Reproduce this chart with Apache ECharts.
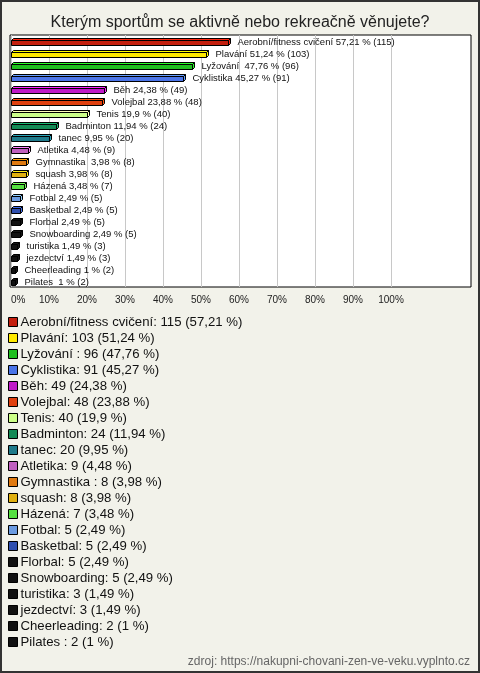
<!DOCTYPE html>
<html>
<head>
<meta charset="utf-8">
<script src="https://cdn.jsdelivr.net/npm/echarts@6/dist/echarts.min.js"></script>
<style>
html,body{margin:0;padding:0;background:#f2f2ea;}
#chart{width:480px;height:673px;}
</style>
</head>
<body>
<div id="chart"></div>
<script>
var categories = ['Aerobní/fitness cvičení', 'Plavání', 'Lyžování ', 'Cyklistika', 'Běh', 'Volejbal', 'Tenis', 'Badminton', 'tanec', 'Atletika', 'Gymnastika ', 'squash', 'Házená', 'Fotbal', 'Basketbal', 'Florbal', 'Snowboarding', 'turistika', 'jezdectví', 'Cheerleading', 'Pilates '];
var counts = [115, 103, 96, 91, 49, 48, 40, 24, 20, 9, 8, 8, 7, 5, 5, 5, 5, 3, 3, 2, 2];
var percents = [57.21, 51.24, 47.76, 45.27, 24.38, 23.88, 19.9, 11.94, 9.95, 4.48, 3.98, 3.98, 3.48, 2.49, 2.49, 2.49, 2.49, 1.49, 1.49, 1, 1];
var tickValues = [0, 10, 20, 30, 40, 50, 60, 70, 80, 90, 100];
var palette = ['#c41f0e', '#ffea00', '#1fbf1f', '#4a74e8', '#c01ac8', '#e0400f', '#ccff88', '#138a55', '#1f7a8a', '#c060c0', '#e07a10', '#e0b010', '#55e040', '#6a9ae0', '#3050b0', '#111111', '#111111', '#111111', '#111111', '#111111', '#111111'];

var FONT = 'Liberation Sans, Arial, sans-serif';
function fmt(v){ return String(v).replace('.', ','); }

var chart = echarts.init(document.getElementById('chart'), null, {renderer: 'canvas'});

var series = categories.map(function(name, i){
  return {
    type: 'custom',
    name: name,
    xAxisIndex: 1,
    yAxisIndex: 1,
    clip: false,
    itemStyle: {color: palette[i]},
    encode: {x: 0, y: 1},
    data: [[percents[i], i]],
    renderItem: function(params, api){
      var val = api.value(0), idx = api.value(1);
      var p0 = api.coord([0, idx]);
      var p1 = api.coord([val, idx]);
      var x0 = Math.round(p0[0]) + 0.5;
      var x1 = Math.round(p1[0]) + 0.5;
      var c = Math.round(p1[1]) + 0.5;
      var d = 2;
      var col = palette[i];
      var dark = echarts.color.lift(col, -0.35);
      var yt = c - 1, yb = c + 4;
      return {
        type: 'group',
        children: [
          {type: 'polygon', shape: {points: [[x0, yt], [x0 + d, yt - d], [x1 + d, yt - d], [x1, yt]]},
            style: {fill: dark, stroke: '#000', lineWidth: 1}},
          {type: 'polygon', shape: {points: [[x1, yt], [x1 + d, yt - d], [x1 + d, yb - d], [x1, yb]]},
            style: {fill: dark, stroke: '#000', lineWidth: 1}},
          {type: 'rect', shape: {x: x0, y: yt, width: x1 - x0, height: yb - yt},
            style: {fill: col, stroke: '#000', lineWidth: 1}},
          {type: 'text', style: {text: name + ' ' + fmt(percents[i]) + ' % (' + counts[i] + ')',
            x: x1 + 9, y: c + 0.5, verticalAlign: 'middle', align: 'left',
            fill: '#111', font: '9.5px ' + FONT}}
        ]
      };
    }
  };
});

var option = {
  backgroundColor: '#f2f2ea',
  animation: false,
  title: {
    text: 'Kterým sportům se aktivně nebo rekreačně věnujete?',
    left: 'center', top: 10,
    textStyle: {fontFamily: FONT, fontSize: 16, fontWeight: 'normal', color: '#222'}
  },
  grid: [
    {left: 10, right: 9, top: 35, height: 252, show: true, backgroundColor: '#ffffff', borderColor: '#000', borderWidth: 1},
    {left: 11, width: 380, top: 35, height: 252}
  ],
  xAxis: [
    {gridIndex: 0, type: 'value', show: false, min: 0, max: 100},
    {gridIndex: 1, type: 'value', min: 0, max: 100, interval: 10,
      axisLine: {show: false}, axisTick: {show: false},
      splitLine: {show: true, lineStyle: {color: '#c8c8c8', width: 1}},
      axisLabel: {formatter: function(v){ return tickValues.indexOf(v) >= 0 ? v + '%' : ''; }, margin: 8, color: '#222', fontFamily: FONT, fontSize: 10, alignMinLabel: 'left'}}
  ],
  yAxis: [
    {gridIndex: 0, type: 'category', show: false, data: categories},
    {gridIndex: 1, type: 'category', inverse: true, data: categories,
      axisLine: {show: false}, axisTick: {show: false}, axisLabel: {show: false}, splitLine: {show: false}}
  ],
  legend: {
    type: 'plain',
    orient: 'vertical',
    left: 8, top: 314,
    itemWidth: 9, itemHeight: 9, itemGap: 0,
    icon: 'rect',
    padding: 0,
    itemStyle: {borderColor: '#000', borderWidth: 1},
    selectedMode: false,
    data: categories,
    formatter: function(name){
      var i = categories.indexOf(name);
      return name + ': ' + counts[i] + ' (' + fmt(percents[i]) + ' %)';
    },
    textStyle: {fontFamily: FONT, fontSize: 13.2, lineHeight: 16, color: '#111', padding: [0, 0, 0, -2]}
  },
  graphic: [
    {type: 'rect', shape: {x: 1, y: 1, width: 478, height: 671}, style: {fill: 'none', stroke: '#333', lineWidth: 2}, silent: true, z: 100},
    {type: 'text', right: 10, top: 656, style: {text: 'zdroj: https://nakupni-chovani-zen-ve-veku.vyplnto.cz', fill: '#666', font: '12px ' + FONT}}
  ],
  series: series
};
chart.setOption(option);
</script>
</body>
</html>
